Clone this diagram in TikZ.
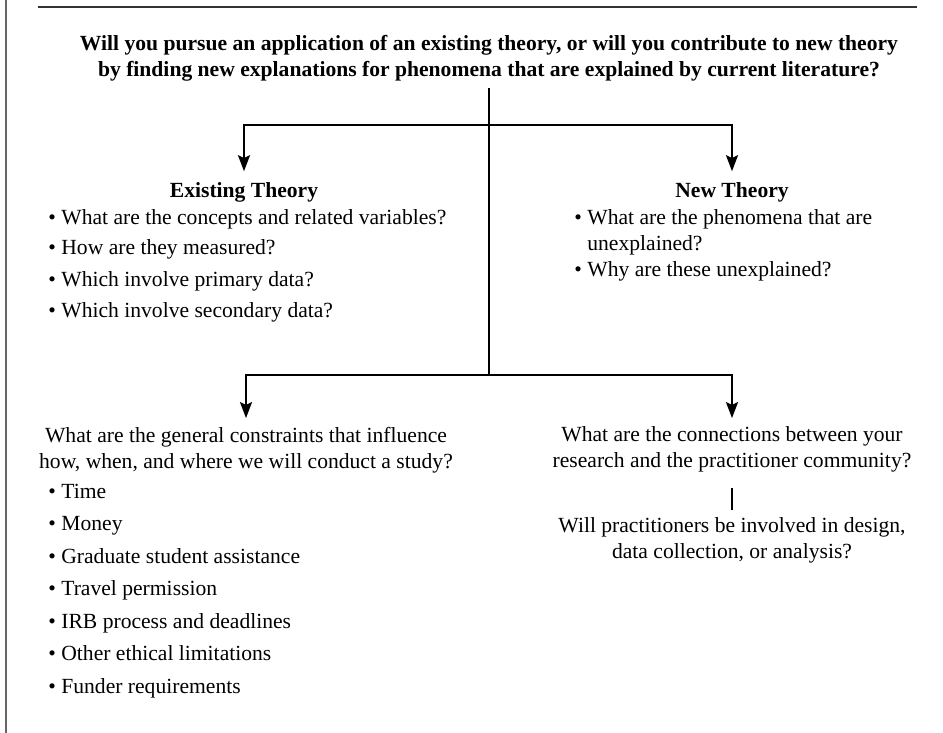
\documentclass[tikz,border=0pt]{standalone}
\usepackage{fontspec}
\setmainfont{Liberation Serif}
\usetikzlibrary{arrows.meta}
\tikzset{
  wire/.style  = {line width=1pt},
  arr/.style   = {line width=1pt, -{Stealth[length=8pt,width=6pt,inset=1.4pt]}},
  rule/.style  = {line width=0.7pt, draw=black!80},
  side/.style  = {line width=0.9pt, draw=black!60},
  txt/.style   = {inner sep=0pt, font=\fontsize{10.8}{13}\selectfont},
  hd/.style    = {inner sep=0pt, font=\fontsize{10.8}{13}\selectfont\bfseries},
  qst/.style   = {txt, align=center},
  blt/.style   = {txt, align=left, anchor=base west},
}

\begin{document}
\begin{tikzpicture}[x=0.5pt,y=-0.5pt]
  \useasboundingbox (0,0) rectangle (943,733);
  \draw[side] (6,0) -- (6,733);
  \draw[rule] (38,7) -- (917,7);
  % top question and trunk
  \node[hd, align=center, anchor=north] (q) at (489,34.5)
    {Will you pursue an application of an existing theory, or will you contribute to new theory\\
     by finding new explanations for phenomena that are explained by current literature?};
  \coordinate (j1) at (489,125);
  \coordinate (j2) at (489,375);
  \draw[wire, shorten <=3.5pt] (q.south) -- (j2);
  % theory branches
  \node[hd, anchor=base] (eh) at (244,198) {Existing Theory};
  \node[hd, anchor=base] (nh) at (732,198) {New Theory};
  \draw[arr, shorten >=5.7pt] (j1) -| (eh.north);
  \draw[arr, shorten >=5.7pt] (j1) -| (nh.north);
  \node[blt] (e1) at (48,224) {\textbullet\ What are the concepts and related variables?};
  \node[blt] (e2) at (48,255) {\textbullet\ How are they measured?};
  \node[blt] (e3) at (48,286) {\textbullet\ Which involve primary data?};
  \node[blt] (e4) at (48,317) {\textbullet\ Which involve secondary data?};
  \node[txt, align=left, anchor=north west] (n1) at (574,209.5)
    {\textbullet\ What are the phenomena that are\\
     \phantom{\textbullet\ }unexplained?};
  \node[blt] (n2) at (574,276) {\textbullet\ Why are these unexplained?};
  % practical branches
  \node[qst, anchor=north] (gq) at (246,426.5)
    {What are the general constraints that influence\\
     how, when, and where we will conduct a study?};
  \node[qst, anchor=north] (pq) at (732,426.5)
    {What are the connections between your\\
     research and the practitioner community?};
  \draw[arr, shorten >=4.2pt] (j2) -| (gq.north);
  \draw[arr, shorten >=4.2pt] (j2) -| (pq.north);
  \node[qst, anchor=north] (pi) at (732,517.5)
    {Will practitioners be involved in design,\\
     data collection, or analysis?};
  \draw[wire, shorten <=7.6pt, shorten >=3.7pt] (pq.south) -- (pi.north);
  \node[blt] (g1) at (48,498) {\textbullet\ Time};
  \node[blt] (g2) at (48,530.5) {\textbullet\ Money};
  \node[blt] (g3) at (48,563) {\textbullet\ Graduate student assistance};
  \node[blt] (g4) at (48,595.5) {\textbullet\ Travel permission};
  \node[blt] (g5) at (48,628) {\textbullet\ IRB process and deadlines};
  \node[blt] (g6) at (48,660.5) {\textbullet\ Other ethical limitations};
  \node[blt] (g7) at (48,693) {\textbullet\ Funder requirements};
\end{tikzpicture}
\end{document}
